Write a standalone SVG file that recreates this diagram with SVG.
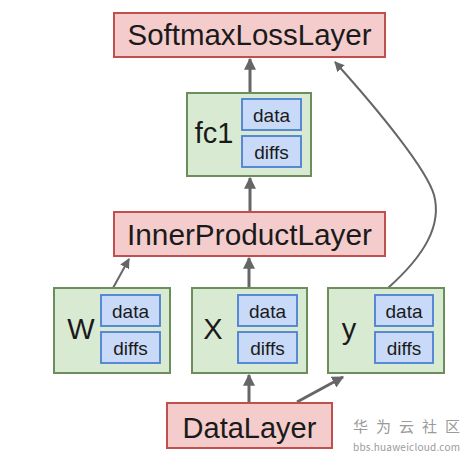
<svg xmlns="http://www.w3.org/2000/svg" width="474" height="460" viewBox="0 0 474 460">
<defs>
<style>
.layer{fill:#f4cccc;stroke:#c0504d;stroke-width:2}
.blob{fill:#d9ead3;stroke:#6b8e5a;stroke-width:2}
.mem{fill:#c9daf8;stroke:#4a7fd4;stroke-width:1.8}
.big{font-family:"Liberation Sans",Arial,sans-serif;font-size:29px;fill:#1a1a1a;text-anchor:middle}
.small{font-family:"Liberation Sans",Arial,sans-serif;font-size:19px;fill:#1a1a1a;text-anchor:middle}
.conn{fill:none;stroke:#666;stroke-width:3}
.thin{fill:none;stroke:#666;stroke-width:2}
.wm{font-family:"Noto Sans CJK SC","Liberation Sans",sans-serif;fill:#9a9a9a}
</style>
<marker id="ah" viewBox="0 0 10 10" refX="9" refY="5" markerWidth="4" markerHeight="4" orient="auto" markerUnits="strokeWidth">
<path d="M0,0 L10,5 L0,10 z" fill="#666"/>
</marker>
<marker id="ah2" viewBox="0 0 10 10" refX="9" refY="5" markerWidth="5" markerHeight="5" orient="auto" markerUnits="strokeWidth">
<path d="M0,0 L10,5 L0,10 z" fill="#666"/>
</marker>
</defs>
<rect width="474" height="460" fill="#fff"/>
<g id="connectors">
<line class="conn" x1="250" y1="93" x2="250" y2="59" marker-end="url(#ah)"/>
<line class="conn" x1="250" y1="212" x2="250" y2="178" marker-end="url(#ah)"/>
<line class="thin" x1="113" y1="288" x2="129" y2="259" marker-end="url(#ah2)"/>
<line class="conn" x1="249" y1="288" x2="249" y2="258" marker-end="url(#ah)"/>
<path class="thin" d="M388,288 C425,255 442,225 434,195 C427,170 380,112 335,62" marker-end="url(#ah2)"/>
<line class="conn" x1="249" y1="403" x2="249" y2="375" marker-end="url(#ah)"/>
<line class="conn" x1="297" y1="402" x2="343" y2="377" marker-end="url(#ah)"/>
</g>
<g id="softmax">
<rect class="layer" x="114" y="13" width="271" height="44"/>
<text class="big" x="249.5" y="45" textLength="244" lengthAdjust="spacingAndGlyphs">SoftmaxLossLayer</text>
</g>
<g id="fc1">
<rect class="blob" x="187" y="93" width="124" height="83"/>
<text class="big" x="214" y="143">fc1</text>
<rect class="mem" x="242" y="99" width="59" height="31"/>
<text class="small" x="271.5" y="122">data</text>
<rect class="mem" x="242" y="136" width="59" height="31"/>
<text class="small" x="271.5" y="159">diffs</text>
</g>
<g id="innerproduct">
<rect class="layer" x="114" y="212" width="271" height="44"/>
<text class="big" x="249.5" y="245" textLength="245" lengthAdjust="spacingAndGlyphs">InnerProductLayer</text>
</g>
<g id="W">
<rect class="blob" x="54" y="288" width="116" height="85"/>
<text class="big" x="81" y="339">W</text>
<rect class="mem" x="101" y="295" width="59" height="31"/>
<text class="small" x="130.5" y="318">data</text>
<rect class="mem" x="101" y="332" width="59" height="31"/>
<text class="small" x="130.5" y="355">diffs</text>
</g>
<g id="X">
<rect class="blob" x="192" y="288" width="115" height="85"/>
<text class="big" x="213" y="339">X</text>
<rect class="mem" x="238" y="295" width="59" height="31"/>
<text class="small" x="267.5" y="318">data</text>
<rect class="mem" x="238" y="332" width="59" height="31"/>
<text class="small" x="267.5" y="355">diffs</text>
</g>
<g id="y">
<rect class="blob" x="328" y="288" width="116" height="85"/>
<text class="big" x="349" y="339">y</text>
<rect class="mem" x="375" y="295" width="58" height="31"/>
<text class="small" x="404" y="318">data</text>
<rect class="mem" x="375" y="332" width="58" height="31"/>
<text class="small" x="404" y="355">diffs</text>
</g>
<g id="datalayer">
<rect class="layer" x="167" y="403" width="165" height="45"/>
<text class="big" x="249.5" y="438">DataLayer</text>
</g>
<g id="watermark">
<text class="wm" x="353" y="432" font-size="15" textLength="107">华 为 云 社 区</text>
<text class="wm" x="353" y="451" font-size="10" textLength="107" font-family="Liberation Sans,sans-serif">bbs.huaweicloud.com</text>
</g>
</svg>
